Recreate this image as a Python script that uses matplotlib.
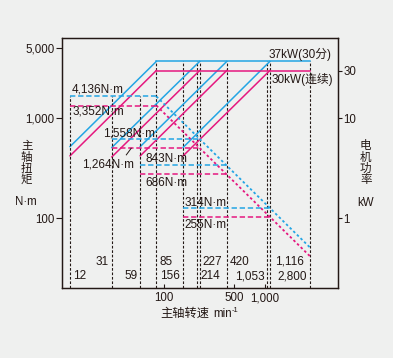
import matplotlib.pyplot as plt
from matplotlib.ticker import NullLocator
from matplotlib.transforms import blended_transform_factory

plt.rcParams['font.family'] = ['Liberation Sans', 'Noto Sans CJK SC', 'DejaVu Sans']

blue = '#23a5e4'
pink = '#e5187f'
ink = '#231815'
bg = '#eff0ef'

# gear ranges: start speed, corner speed (min-1)
range_start = [12, 31, 59, 156]
range_corner = [85, 227, 420, 1116]
max_speed = 2800

# constant torque, N·m
torque_30min = [4136, 1558, 843, 314]
torque_cont = [3352, 1264, 686, 255]
torque_end_30min = 126
torque_end_cont = 103

# power at range start, kW
kw_start_30min = [5.2, 5.1, 5.2, 5.1]
kw_start_cont = [4.2, 4.1, 4.2, 4.2]
kw_30min = 37
kw_cont = 30

# speeds marked with vertical lines
marks_low = [12, 31, 59]
marks_high = [85, 156, 214, 227, 420, 1053, 1116, 2800]
top_row = [31, 85, 227, 420, 1116]
bottom_row = [12, 59, 156, 214, 1053, 2800]
label_side = {12: 1, 31: -1, 59: -1, 85: 1, 156: -1, 214: 1, 227: 1,
              420: 1, 1053: -1, 1116: 1.6, 2800: -1}

fig = plt.figure(figsize=(3.93, 3.58), dpi=100, facecolor=bg)
ax = fig.add_axes([0.1578, 0.1955, 0.7015, 0.6983], facecolor=bg)
ax.set_xscale('log')
ax.set_yscale('log')
ax.set_xlim(10, 5200)
ax.set_ylim(20, 6350)

axp = ax.twinx()
axp.set_yscale('log')
axp.set_ylim(0.2, 63.4)

axt = ax.twinx()
axt.set_yscale('log')
axt.set_ylim(50, 15875)
axt.axis('off')

lw = 1.1
dash = (0, (3.5, 1.8))
dot = (0, (1.4, 1.4))
vdash = (0, (2.4, 1.6))

# vertical speed markers
axt.vlines(marks_low, 50, torque_30min[0], colors=ink, lw=0.8, linestyles=vdash)
axp.vlines(marks_high, 0.2, kw_30min, colors=ink, lw=0.8, linestyles=vdash)

# power curves
for s, c, p0, q0 in zip(range_start, range_corner, kw_start_30min, kw_start_cont):
    axp.plot([s, c], [p0, kw_30min], color=blue, lw=lw)
    axp.plot([s, c], [q0, kw_cont], color=pink, lw=lw)
axp.plot([range_corner[0], max_speed], [kw_30min, kw_30min], color=blue, lw=lw)
axp.plot([range_corner[0], max_speed], [kw_cont, kw_cont], color=pink, lw=lw)

# torque curves
for s, c, t, u in zip(range_start, range_corner, torque_30min, torque_cont):
    axt.plot([s, c], [t, t], color=blue, lw=lw, ls=dash)
    axt.plot([s, c], [u, u], color=pink, lw=lw, ls=dash)
axt.plot([range_corner[0], max_speed], [torque_30min[0], torque_end_30min],
         color=blue, lw=1.3, ls=dot)
axt.plot([range_corner[0], max_speed], [torque_cont[0], torque_end_cont],
         color=pink, lw=1.3, ls=dot)

fs = 8.5
def note(a, txt, xy, dx, dy, ha='left'):
    a.annotate(txt, xy=xy, xytext=(dx, dy), textcoords='offset points',
               ha=ha, va='center', fontsize=fs, color=ink)

note(axt, '4,136N·m', (12, 4136), 1.5, 4.8)
note(axt, '3,352N·m', (12, 3352), 1.5, -4.3)
note(axt, '1,558N·m', (85, 1558), -1.2, 4.1, ha='right')
note(axt, '1,264N·m', (31, 1264), -3.1, -12.2, ha='center')
axt.plot([43, 48], [1075, 1250], color=ink, lw=0.7)
note(axt, '843N·m', (59, 843), 3.8, 4.5)
note(axt, '686N·m', (59, 686), 3.8, -6.0)
note(axt, '314N·m', (156, 314), 1.2, 4.0)
note(axt, '255N·m', (156, 255), 1.2, -5.3)
note(axp, '37kW(30分)', (1116, kw_30min), -0.8, 5.0)
note(axp, '30kW(连续)', (1116, kw_cont), 1.5, -6.8)

tr = blended_transform_factory(ax.transData, ax.transAxes)
for n in top_row + bottom_row:
    yy = 0.105 if n in top_row else 0.048
    side = label_side[n]
    ax.annotate(f'{n:,}', xy=(n, yy), xycoords=tr, xytext=(2.2 * side, 0),
                textcoords='offset points', ha='left' if side > 0 else 'right',
                va='center', fontsize=fs, color=ink)

# ticks
ax.set_xticks([100, 500, 1000], labels=['100', '500', '1,000'])
ax.xaxis.set_minor_locator(NullLocator())
ax.tick_params(axis='x', direction='in', length=3, width=0.8, pad=3,
               labelsize=8.3, colors=ink)
ax.set_yticks([100, 1000, 5000], labels=['100', '1,000', '5,000'])
ax.yaxis.set_minor_locator(NullLocator())
ax.tick_params(axis='y', direction='out', length=4.3, width=0.8, pad=1.2,
               labelsize=8.3, colors=ink)
axp.set_yticks([1, 10, 30], labels=['1', '10', '30'])
axp.yaxis.set_minor_locator(NullLocator())
axp.tick_params(axis='y', direction='out', length=3.1, width=0.8, pad=0.8,
                labelsize=8.3, colors=ink)
for a in (ax, axp):
    for sp in a.spines.values():
        sp.set_linewidth(0.9)
        sp.set_color(ink)

# axis titles
W, H = 393, 358
def ftext(x, y, s, size=8.3, **kw):
    fig.text(x / W, 1 - y / H, s, fontsize=size, color=ink, va='center', **kw)

ftext(26.7, 163.3, '主\n轴\n扭\n矩', ha='center', linespacing=0.92)
ftext(26.2, 202.3, 'N·m', ha='center')
ftext(365.7, 163.3, '电\n机\n功\n率', ha='center', linespacing=0.92)
ftext(365.7, 203.3, 'kW', ha='center')
ftext(160.7, 314, '主轴转速', size=8.8, ha='left')
ftext(213.3, 314, 'min', ha='left')
ftext(231.5, 310, '-1', size=5.5, ha='left')

fig.savefig('out.png', dpi=100, facecolor=bg)
